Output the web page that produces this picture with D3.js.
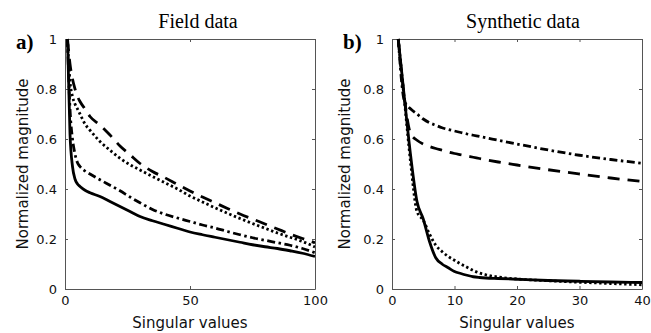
<!DOCTYPE html>
<html>
<head>
<meta charset="utf-8">
<script src="https://cdn.jsdelivr.net/npm/d3@7/dist/d3.min.js"></script>
<style>
  html, body { margin: 0; padding: 0; background: #fff; }
  svg { display: block; }
</style>
</head>
<body>
<svg id="chart" width="651" height="333"></svg>
<script>
// Panel a: field data, normalized singular values (index 1..100)
const fieldIndex = [1, 2, 3, 4, 5, 6, 8, 10, 14, 18, 22, 26, 30, 35, 40, 45, 50, 55, 60, 65, 70, 75, 80, 85, 90, 95, 100];
const fieldSolid = [1, 0.62, 0.49, 0.44, 0.42, 0.41, 0.395, 0.385, 0.37, 0.35, 0.33, 0.31, 0.29, 0.273, 0.258, 0.243, 0.228, 0.217, 0.207, 0.197, 0.187, 0.177, 0.169, 0.162, 0.153, 0.143, 0.13];
const fieldDashDot = [1, 0.72, 0.6, 0.54, 0.505, 0.49, 0.472, 0.46, 0.437, 0.415, 0.393, 0.368, 0.345, 0.318, 0.299, 0.284, 0.27, 0.256, 0.244, 0.23, 0.217, 0.205, 0.195, 0.185, 0.175, 0.162, 0.145];
const fieldDotted = [1, 0.83, 0.77, 0.74, 0.72, 0.7, 0.66, 0.635, 0.59, 0.555, 0.523, 0.497, 0.476, 0.45, 0.425, 0.4, 0.372, 0.348, 0.325, 0.303, 0.282, 0.262, 0.243, 0.224, 0.207, 0.19, 0.168];
const fieldDashed = [1, 0.9, 0.84, 0.8, 0.77, 0.75, 0.72, 0.69, 0.656, 0.616, 0.572, 0.537, 0.502, 0.47, 0.445, 0.418, 0.392, 0.368, 0.345, 0.322, 0.3, 0.28, 0.26, 0.24, 0.22, 0.202, 0.185];

// Panel b: synthetic data, normalized singular values (index 1..40)
const synthIndex = [1, 2, 3, 4, 5, 6, 7, 8, 9, 10, 11, 12, 13, 14, 15, 17, 20, 25, 30, 35, 40];
const synthSolid = [1, 0.76, 0.53, 0.35, 0.28, 0.19, 0.125, 0.1, 0.085, 0.07, 0.062, 0.055, 0.049, 0.046, 0.044, 0.042, 0.039, 0.034, 0.031, 0.028, 0.026];
const synthDotted = [1, 0.75, 0.5, 0.31, 0.275, 0.22, 0.175, 0.15, 0.13, 0.115, 0.1, 0.087, 0.074, 0.064, 0.057, 0.048, 0.04, 0.033, 0.027, 0.022, 0.017];
const synthDashDot = [1, 0.75, 0.72, 0.7, 0.68, 0.665, 0.655, 0.645, 0.638, 0.632, 0.626, 0.62, 0.615, 0.61, 0.605, 0.595, 0.58, 0.556, 0.535, 0.518, 0.503];
const synthDashed = [1, 0.76, 0.62, 0.595, 0.58, 0.57, 0.562, 0.555, 0.548, 0.542, 0.537, 0.532, 0.527, 0.522, 0.517, 0.508, 0.496, 0.477, 0.46, 0.444, 0.43];

// Tick values
const fieldXTicks = [0, 50, 100];
const synthXTicks = [0, 10, 20, 30, 40];
const yTicks = [0, 0.2, 0.4, 0.6, 0.8, 1];

const styles = {
  solid:   null,
  dotted:  "2.4 2.6",
  dashed:  "12 8",
  dashdot: "8 3.5 2.5 3.5"
};

const svg = d3.select("#chart");
const sansFont = "'DejaVu Sans', sans-serif";
const serifFont = "'Liberation Serif', 'Times New Roman', serif";

function panel(opts) {
  const { left, right, top, bottom, xDomain, xTicks, index, series, title, titleX, tag, tagX, yLabelX } = opts;
  const x = d3.scaleLinear().domain(xDomain).range([left, right]);
  const y = d3.scaleLinear().domain([0, 1]).range([bottom, top]);
  const g = svg.append("g");

  const tickLen = 3;
  const axisColor = "#555";

  // inward ticks on all four sides
  const xAxisB = d3.axisBottom(x).tickValues(xTicks).tickSizeInner(-tickLen).tickSizeOuter(0).tickPadding(7).tickFormat(d3.format("d"));
  const xAxisT = d3.axisTop(x).tickValues(xTicks).tickSizeInner(-tickLen).tickSizeOuter(0).tickFormat("");
  const yAxisL = d3.axisLeft(y).tickValues(yTicks).tickSizeInner(-tickLen).tickSizeOuter(0).tickPadding(8).tickFormat(d => d === 0 || d === 1 ? d3.format("d")(d) : d3.format(".1f")(d));
  const yAxisR = d3.axisRight(y).tickValues(yTicks).tickSizeInner(-tickLen).tickSizeOuter(0).tickFormat("");

  const axes = [
    g.append("g").attr("transform", `translate(0,${bottom})`).call(xAxisB),
    g.append("g").attr("transform", `translate(0,${top})`).call(xAxisT),
    g.append("g").attr("transform", `translate(${left},0)`).call(yAxisL),
    g.append("g").attr("transform", `translate(${right},0)`).call(yAxisR)
  ];
  axes.forEach(a => {
    a.select(".domain").attr("stroke", axisColor).attr("stroke-width", 1);
    a.selectAll(".tick line").attr("stroke", axisColor).attr("stroke-width", 1);
    a.selectAll("text").attr("font-family", sansFont).attr("font-size", 13).attr("fill", "#111");
  });

  // curves
  const clipId = "clip-" + tag.replace(/\W/g, "");
  g.append("clipPath").attr("id", clipId)
    .append("rect").attr("x", left).attr("y", top - 2).attr("width", right - left).attr("height", bottom - top + 2);
  const line = d3.line().x((d, i) => x(index[i])).y(d => y(d)).curve(d3.curveMonotoneX);
  series.forEach(s => {
    g.append("path")
      .datum(s.values)
      .attr("clip-path", `url(#${clipId})`)
      .attr("d", line)
      .attr("fill", "none")
      .attr("stroke", "#000")
      .attr("stroke-width", 2.8)
      .attr("stroke-linejoin", "round")
      .attr("stroke-dasharray", styles[s.style]);
  });

  // title
  g.append("text").attr("x", titleX).attr("y", 28).attr("text-anchor", "middle")
    .attr("font-family", serifFont).attr("font-size", 20).attr("fill", "#000").text(title);
  // panel tag
  g.append("text").attr("x", tagX).attr("y", 49)
    .attr("font-family", serifFont).attr("font-size", 21).attr("font-weight", "bold").attr("fill", "#000").text(tag);
  // axis labels
  g.append("text").attr("x", (left + right) / 2).attr("y", 328).attr("text-anchor", "middle")
    .attr("font-family", sansFont).attr("font-size", 15).attr("fill", "#111").text("Singular values");
  g.append("text").attr("transform", `translate(${yLabelX},${(top + bottom) / 2}) rotate(-90)`)
    .attr("text-anchor", "middle")
    .attr("font-family", sansFont).attr("font-size", 15).attr("fill", "#111").text("Normalized magnitude");
}

panel({
  left: 65, right: 315, top: 39, bottom: 289,
  xDomain: [0, 100], xTicks: fieldXTicks, index: fieldIndex,
  series: [
    { values: fieldSolid, style: "solid" },
    { values: fieldDashDot, style: "dashdot" },
    { values: fieldDotted, style: "dotted" },
    { values: fieldDashed, style: "dashed" }
  ],
  title: "Field data", titleX: 198, tag: "a)", tagX: 16, yLabelX: 28
});

panel({
  left: 392, right: 642, top: 39, bottom: 289,
  xDomain: [0, 40], xTicks: synthXTicks, index: synthIndex,
  series: [
    { values: synthSolid, style: "solid" },
    { values: synthDotted, style: "dotted" },
    { values: synthDashDot, style: "dashdot" },
    { values: synthDashed, style: "dashed" }
  ],
  title: "Synthetic data", titleX: 523, tag: "b)", tagX: 343, yLabelX: 350
});
</script>
</body>
</html>
